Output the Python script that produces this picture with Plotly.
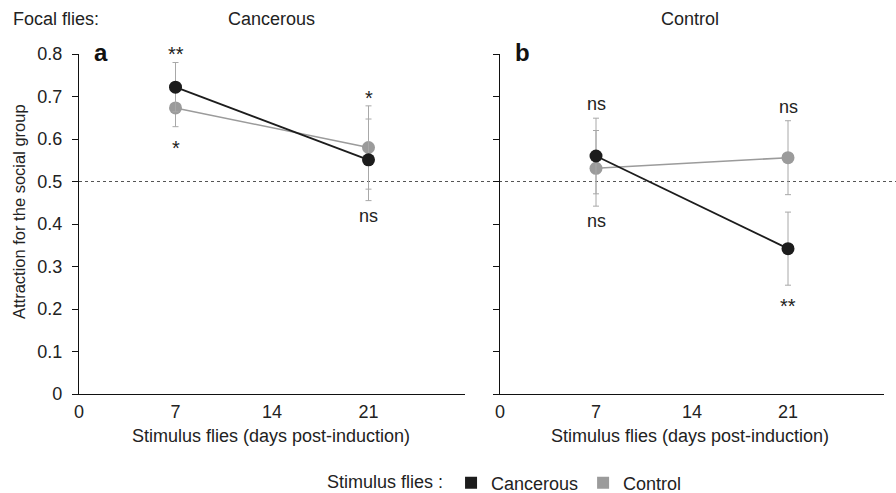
import plotly.graph_objects as go

# ---------------- data ----------------
days = [7, 21]
x_ticks = [0, 7, 14, 21]
y_ticks = [0, 0.1, 0.2, 0.3, 0.4, 0.5, 0.6, 0.7, 0.8]
y_tick_labels = ["0", "0.1", "0.2", "0.3", "0.4", "0.5", "0.6", "0.7", "0.8"]

# Panel a : focal flies cancerous
a_cancerous = [0.722, 0.551]
a_cancerous_err = [0.058, 0.096]
a_control = [0.673, 0.580]
a_control_err = [0.044, 0.098]

# Panel b : focal flies control
b_cancerous = [0.560, 0.342]
b_cancerous_err = [0.089, 0.086]
b_control = [0.531, 0.556]
b_control_err = [0.089, 0.087]

# significance labels: (series, day index, side, text)
a_sig = [("cancerous", 0, "above", "**"), ("control", 0, "below", "*"),
         ("control", 1, "above", "*"), ("cancerous", 1, "below", "ns")]
b_sig = [("cancerous", 0, "above", "ns"), ("control", 0, "below", "ns"),
         ("control", 1, "above", "ns"), ("cancerous", 1, "below", "**")]

chance_level = 0.5
panel_titles = ["Cancerous", "Control"]
panel_letters = ["a", "b"]

# ---------------- style ----------------
FONT = "Liberation Sans, Arial, Helvetica, sans-serif"
TXT = "#222222"
BLACK = "#1c1c1c"
GREY = "#9b9b9b"
ERR = "#a8a8a8"
FS = 18

W, H = 896, 493
def px(v):  # x pixel -> paper
    return v / W
def py(v):  # y pixel -> paper
    return 1 - v / H

fig = go.Figure()

panels = [
    dict(xa="x", ya="y", canc=a_cancerous, ce=a_cancerous_err, ctrl=a_control, te=a_control_err, sig=a_sig),
    dict(xa="x2", ya="y2", canc=b_cancerous, ce=b_cancerous_err, ctrl=b_control, te=b_control_err, sig=b_sig),
]

for p in panels:
    fig.add_trace(go.Scatter(
        x=days, y=p["ctrl"], mode="lines+markers", xaxis=p["xa"], yaxis=p["ya"],
        line=dict(color=GREY, width=1.6), marker=dict(color=GREY, size=13),
        error_y=dict(type="data", array=p["te"], visible=True, color=ERR, thickness=1, width=3),
        showlegend=False, cliponaxis=False))
    fig.add_trace(go.Scatter(
        x=days, y=p["canc"], mode="lines+markers", xaxis=p["xa"], yaxis=p["ya"],
        line=dict(color=BLACK, width=1.8), marker=dict(color=BLACK, size=13),
        error_y=dict(type="data", array=p["ce"], visible=True, color=ERR, thickness=1, width=3),
        showlegend=False, cliponaxis=False))

# legend-only traces
fig.add_trace(go.Scatter(x=[None], y=[None], mode="markers", name="Cancerous",
                         marker=dict(symbol="square", color=BLACK, size=12)))
fig.add_trace(go.Scatter(x=[None], y=[None], mode="markers", name="Control",
                         marker=dict(symbol="square", color=GREY, size=12)))

annotations = []
for p in panels:
    for series, i, side, text in p["sig"]:
        vals = p["canc"] if series == "cancerous" else p["ctrl"]
        errs = p["ce"] if series == "cancerous" else p["te"]
        yv = vals[i] + errs[i] if side == "above" else vals[i] - errs[i]
        shift = 14 if side == "above" else -15
        size = FS
        if text.startswith("*"):
            shift -= 6
            size = 20
        annotations.append(dict(x=days[i], y=yv, xref=p["xa"], yref=p["ya"], text=text,
                                showarrow=False, yshift=shift, yanchor="middle",
                                font=dict(size=size, color=TXT, family=FONT)))

# headers
annotations.append(dict(x=px(11), y=py(19), xref="paper", yref="paper", text="Focal flies:",
                        showarrow=False, xanchor="left", yanchor="middle",
                        font=dict(size=FS, color=TXT, family=FONT)))
for cx, t in zip([271, 690], panel_titles):
    annotations.append(dict(x=px(cx), y=py(19), xref="paper", yref="paper", text=t,
                            showarrow=False, xanchor="center", yanchor="middle",
                            font=dict(size=FS, color=TXT, family=FONT)))
for cx, t in zip([101, 522], panel_letters):
    annotations.append(dict(x=px(cx), y=py(52), xref="paper", yref="paper", text="<b>%s</b>" % t,
                            showarrow=False, xanchor="center", yanchor="middle",
                            font=dict(size=24, color="#111111", family=FONT)))
# axis titles
annotations.append(dict(x=px(19), y=py(212), xref="paper", yref="paper",
                        text="Attraction for the social group", textangle=-90,
                        showarrow=False, xanchor="center", yanchor="middle",
                        font=dict(size=16.5, color=TXT, family=FONT)))
for cx in [271, 690]:
    annotations.append(dict(x=px(cx), y=py(436), xref="paper", yref="paper",
                            text="Stimulus flies (days post-induction)",
                            showarrow=False, xanchor="center", yanchor="middle",
                            font=dict(size=FS, color=TXT, family=FONT)))

xa_common = dict(range=[0, 28], tickvals=x_ticks, ticktext=[str(v) for v in x_ticks],
                 showline=True, linecolor="#111111", linewidth=1.3, ticks="",
                 showgrid=False, zeroline=False, fixedrange=True, automargin=False,
                 tickfont=dict(size=FS, color=TXT, family=FONT), ticklabelstandoff=1)
ya_common = dict(range=[0, 0.8], tickvals=y_ticks, showline=True, linecolor="#111111",
                 linewidth=1.3, ticks="outside", ticklen=6, tickcolor="#111111", tickwidth=1,
                 showgrid=False, zeroline=False, fixedrange=True, automargin=False,
                 tickfont=dict(size=FS, color=TXT, family=FONT))

fig.update_layout(
    width=W, height=H, margin=dict(l=0, r=0, t=0, b=0, autoexpand=False),
    paper_bgcolor="white", plot_bgcolor="white",
    xaxis=dict(domain=[px(79), px(465)], anchor="y", **xa_common),
    yaxis=dict(domain=[py(394), py(54)], anchor="x", ticktext=y_tick_labels,
               ticklabelstandoff=6, **ya_common),
    xaxis2=dict(domain=[px(500), px(884)], anchor="y2", **xa_common),
    yaxis2=dict(domain=[py(394), py(54)], anchor="x2", showticklabels=False, **ya_common),
    annotations=annotations,
    shapes=[dict(type="line", xref="paper", yref="y", x0=px(79), x1=1.0,
                 y0=chance_level, y1=chance_level,
                 line=dict(color="#555555", width=1, dash="dot"), layer="below")],
    showlegend=True,
    legend=dict(orientation="h", x=px(325), y=py(483), xanchor="left", yanchor="middle",
                title=dict(text="Stimulus flies :", side="left",
                           font=dict(size=FS, color=TXT, family=FONT)),
                font=dict(size=FS, color=TXT, family=FONT), itemwidth=30,
                bgcolor="rgba(0,0,0,0)", tracegroupgap=0),
)

fig.write_html("out.html", config={"displayModeBar": False},
               post_script="document.body.style.margin='0';document.body.style.overflow='hidden';")
